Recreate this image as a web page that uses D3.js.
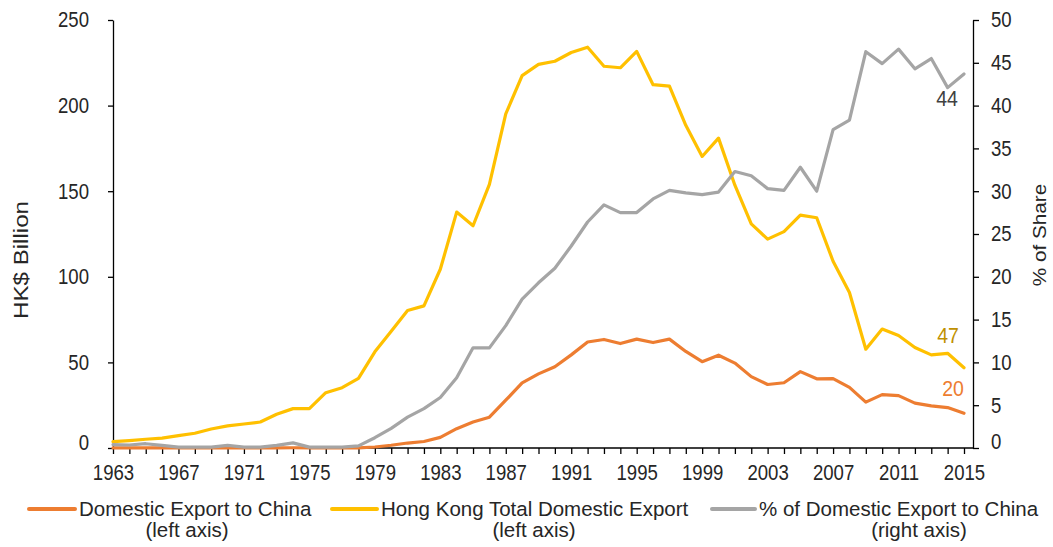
<!DOCTYPE html>
<html>
<head>
<meta charset="utf-8">
<script src="https://cdn.jsdelivr.net/npm/d3@7"></script>
<style>
body { margin: 0; background: #fff; }
svg text { font-family: 'Liberation Sans', Arial, sans-serif; fill: #262626; }
</style>
</head>
<body>
<svg id="chart" width="1053" height="547"></svg>
<script>
'use strict';

// categories
const years = [1963, 1964, 1965, 1966, 1967, 1968, 1969, 1970, 1971, 1972, 1973, 1974, 1975,
    1976, 1977, 1978, 1979, 1980, 1981, 1982, 1983, 1984, 1985, 1986, 1987, 1988, 1989,
    1990, 1991, 1992, 1993, 1994, 1995, 1996, 1997, 1998, 1999, 2000, 2001, 2002, 2003,
    2004, 2005, 2006, 2007, 2008, 2009, 2010, 2011, 2012, 2013, 2014, 2015];
const yearLabels = [1963, 1967, 1971, 1975, 1979, 1983, 1987, 1991, 1995, 1999, 2003, 2007, 2011, 2015];

// HK$ billion, left axis
const exportToChina = [0.02, 0.02, 0.03, 0.02, 0.01, 0.01, 0.01, 0.04, 0.01, 0.02, 0.06, 0.14, 0.02,
    0.03, 0.04, 0.1, 0.6, 1.6, 2.9, 3.8, 6.2, 11.3, 15.2, 18.0, 27.9, 38.0, 43.3,
    47.5, 54.4, 61.9, 63.4, 61.0, 63.6, 61.6, 63.6, 56.4, 50.4, 54.2, 49.6, 41.7, 37.1,
    38.1, 44.6, 40.4, 40.5, 35.4, 26.8, 31.2, 30.6, 26.2, 24.6, 23.6, 20.3];
const totalExport = [3.7, 4.3, 5.1, 5.8, 7.2, 8.6, 11.1, 12.9, 14.0, 15.2, 19.7, 23.0, 23.0,
    32.3, 35.2, 40.7, 56.2, 68.2, 80.3, 83.0, 104.4, 137.8, 129.8, 154.0, 195.2, 217.5, 224.1,
    225.9, 231.0, 234.1, 223.0, 222.1, 231.7, 212.2, 211.4, 188.5, 170.3, 181.0, 153.5, 130.9, 122.0,
    126.4, 136.0, 134.5, 109.1, 90.8, 57.7, 69.5, 65.7, 58.7, 54.4, 55.3, 46.9];
// % share, right axis
const shareChina = [0.4, 0.35, 0.5, 0.3, 0.1, 0.1, 0.1, 0.3, 0.1, 0.1, 0.3, 0.6, 0.1,
    0.1, 0.1, 0.25, 1.2, 2.3, 3.6, 4.6, 5.9, 8.2, 11.7, 11.7, 14.3, 17.4, 19.3,
    21.0, 23.6, 26.4, 28.4, 27.5, 27.5, 29.1, 30.1, 29.8, 29.6, 29.9, 32.3, 31.8, 30.3,
    30.1, 32.8, 30.0, 37.2, 38.3, 46.3, 44.9, 46.6, 44.3, 45.5, 42.1, 43.7];

const leftTicks = [0, 50, 100, 150, 200, 250];
const rightTicks = [0, 5, 10, 15, 20, 25, 30, 35, 40, 45, 50];

const series = [
    {name: 'Domestic Export to China', note: '(left axis)', values: exportToChina, axis: 'left', color: '#ED7D31'},
    {name: 'Hong Kong Total Domestic Export', note: '(left axis)', values: totalExport, axis: 'left', color: '#FFC000'},
    {name: '% of Domestic Export to China', note: '(right axis)', values: shareChina, axis: 'right', color: '#A5A5A5'}
];

// layout
const plotLeft = 113, plotRight = 973, plotTop = 20, plotBottom = 448, lastX = 964;
const TALL = 1.15;   // the original picture is a bit stretched vertically
const tickFont = 18.6;

const svg = d3.select('#chart');

const x = d3.scaleLinear().domain([years[0], years[years.length - 1]]).range([plotLeft, lastX]);
const yL = d3.scaleLinear().domain([0, 250]).range([plotBottom, plotTop]);
const yR = d3.scaleLinear().domain([0, 50]).range([plotBottom, plotTop]);

function styleAxis(g) {
    g.attr('font-size', null).attr('font-family', null);
    g.selectAll('line').attr('stroke', '#000').attr('stroke-width', 1.3);
    g.select('.domain').attr('stroke', '#000').attr('stroke-width', 1.3);
    g.selectAll('text')
        .attr('font-size', tickFont)
        .attr('transform', `scale(1,${TALL})`);
}

// left axis
const gLeft = svg.append('g')
    .attr('transform', `translate(${plotLeft},0)`)
    .call(d3.axisLeft(yL).tickValues(leftTicks).tickSize(5).tickSizeOuter(0).tickPadding(19))
    .call(styleAxis);
gLeft.selectAll('text').filter(d => d === 0).attr('y', -5 / TALL);

// right axis
const gRight = svg.append('g')
    .attr('transform', `translate(${plotRight},0)`)
    .call(d3.axisRight(yR).tickValues(rightTicks).tickSize(6).tickSizeOuter(0).tickPadding(12))
    .call(styleAxis);
gRight.selectAll('text').filter(d => d === 0).attr('y', -6 / TALL);

// bottom axis
const gBottom = svg.append('g')
    .attr('transform', `translate(0,${plotBottom})`)
    .call(d3.axisBottom(x).tickValues(years).tickSize(6).tickSizeOuter(0).tickPadding(8.3)
        .tickFormat(d => yearLabels.includes(d) ? d : ''))
    .call(styleAxis);
gBottom.select('.domain').remove();
svg.append('line')
    .attr('x1', plotLeft).attr('x2', plotRight)
    .attr('y1', plotBottom).attr('y2', plotBottom)
    .attr('stroke', '#000').attr('stroke-width', 1.3);

// axis titles
svg.append('text')
    .attr('transform', `translate(28,260) rotate(-90) scale(${TALL},1)`)
    .attr('text-anchor', 'middle')
    .attr('font-size', 21)
    .text('HK$ Billion');
svg.append('text')
    .attr('transform', `translate(1046,235) rotate(-90) scale(${TALL},1)`)
    .attr('text-anchor', 'middle')
    .attr('font-size', 18)
    .text('% of Share');

// lines
series.forEach(s => {
    const y = s.axis === 'left' ? yL : yR;
    const line = d3.line()
        .x((d, i) => x(years[i]))
        .y(d => y(d));
    svg.append('path')
        .datum(s.values)
        .attr('d', line)
        .attr('fill', 'none')
        .attr('stroke', s.color)
        .attr('stroke-width', 3.2)
        .attr('stroke-linejoin', 'round')
        .attr('stroke-linecap', 'round');
});

// end labels
const endLabels = [
    {values: shareChina, scale: yR, color: '#404040', dx: -17, dy: 32},
    {values: totalExport, scale: yL, color: '#BF9000', dx: -16, dy: -25},
    {values: exportToChina, scale: yL, color: '#ED7D31', dx: -11, dy: -17}
];
endLabels.forEach(l => {
    const v = l.values[l.values.length - 1];
    svg.append('text')
        .attr('transform', `translate(${x(years[years.length - 1]) + l.dx},${l.scale(v) + l.dy}) scale(1,${TALL})`)
        .attr('text-anchor', 'middle')
        .attr('font-size', 19.5)
        .style('fill', l.color)
        .text(Math.round(v));
});

// legend
const legendItems = [
    {x1: 29, x2: 75, noteX: 187},
    {x1: 332, x2: 377, noteX: 534},
    {x1: 712, x2: 755, noteX: 919}
];
const legend = svg.append('g');
series.forEach((s, i) => {
    const it = legendItems[i];
    legend.append('line')
        .attr('x1', it.x1).attr('x2', it.x2)
        .attr('y1', 509).attr('y2', 509)
        .attr('stroke', s.color)
        .attr('stroke-width', 4)
        .attr('stroke-linecap', 'round');
    legend.append('text')
        .attr('x', it.x2 + 4).attr('y', 516)
        .attr('font-size', 20.5)
        .text(s.name);
    legend.append('text')
        .attr('x', it.noteX).attr('y', 537)
        .attr('text-anchor', 'middle')
        .attr('font-size', 20.5)
        .text(s.note);
});
</script>
</body>
</html>
